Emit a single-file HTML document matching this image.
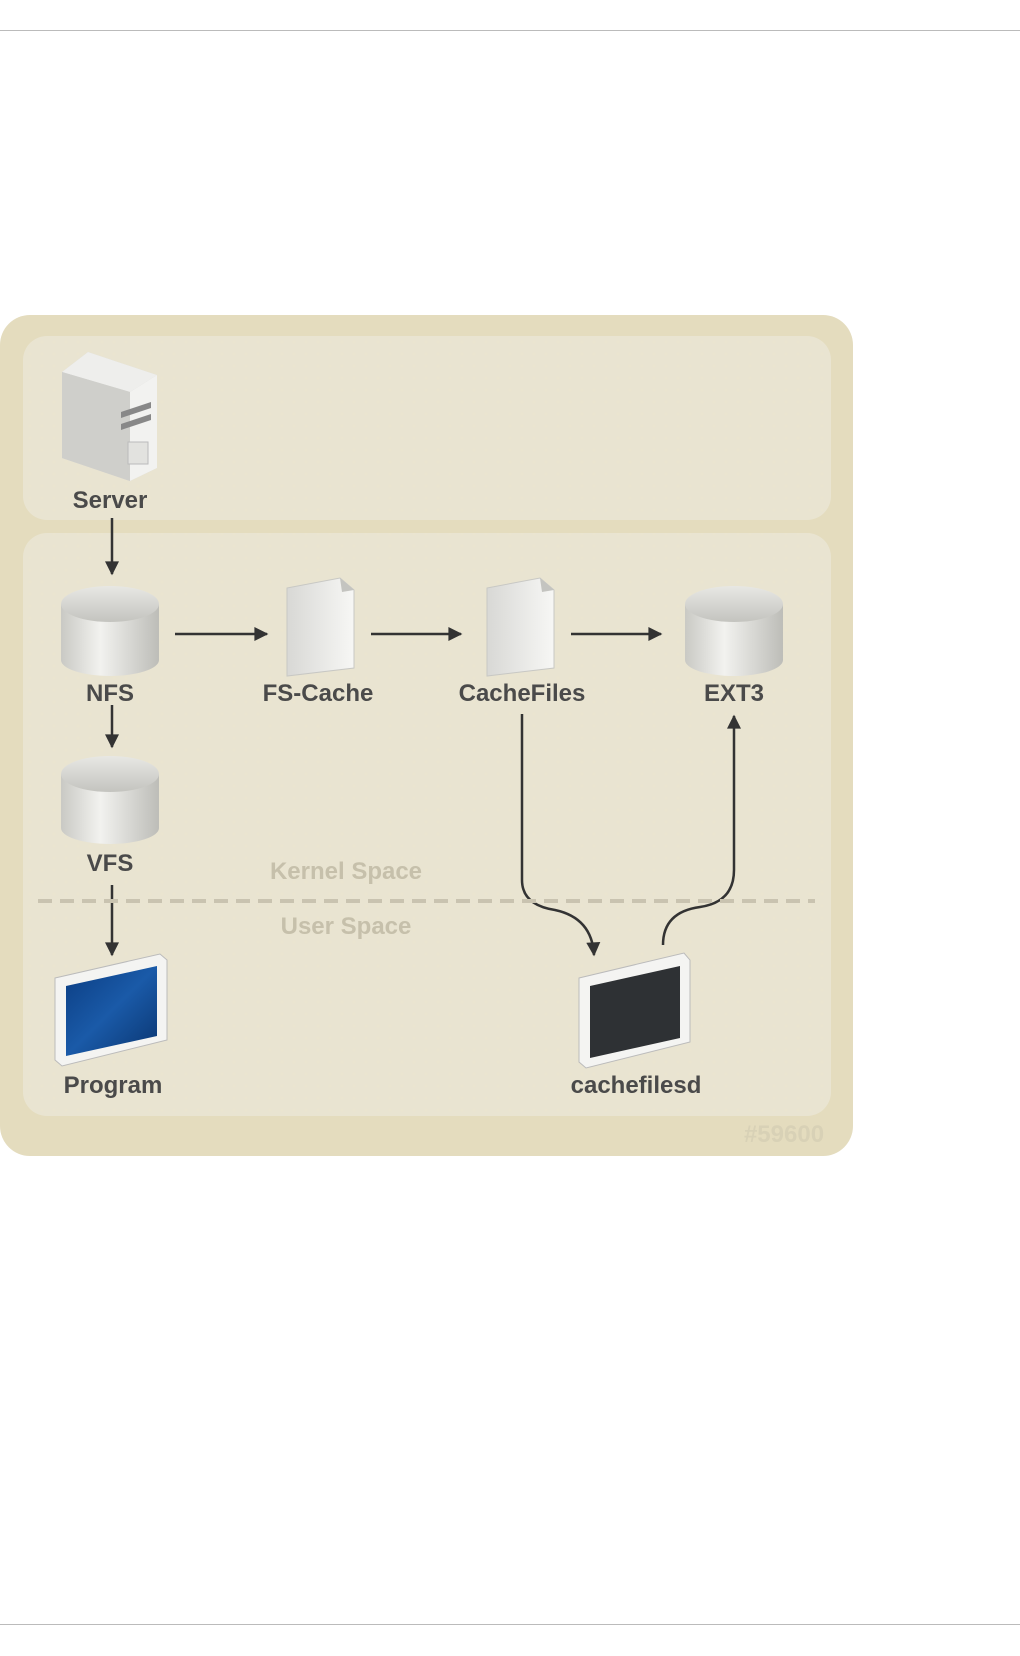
<!DOCTYPE html>
<html><head><meta charset="utf-8"><style>
html,body{margin:0;padding:0;background:#fff;}
body{width:1020px;height:1656px;position:relative;overflow:hidden;font-family:"Liberation Sans",sans-serif;}
</style></head><body>
<div style="position:absolute;left:0;top:30px;width:1020px;height:1px;background:#bbb"></div>
<div style="position:absolute;left:0;top:1624px;width:1020px;height:1px;background:#bbb"></div>
<svg width="1020" height="1656" style="position:absolute;left:0;top:0" xmlns="http://www.w3.org/2000/svg">
<defs>
<pattern id="dots" width="12" height="12" patternUnits="userSpaceOnUse"><circle cx="6" cy="6" r="1.6" fill="#ebe5cf"/></pattern>
<linearGradient id="cyl" x1="0" x2="1"><stop offset="0" stop-color="#c9c9c4"/><stop offset="0.4" stop-color="#f2f2ef"/><stop offset="1" stop-color="#bdbdb8"/></linearGradient>
<linearGradient id="top" x1="0" y1="0" x2="0" y2="1"><stop offset="0" stop-color="#e8e8e4"/><stop offset="1" stop-color="#c4c4bf"/></linearGradient>
<linearGradient id="doc" x1="0" x2="1"><stop offset="0" stop-color="#d8d8d5"/><stop offset="1" stop-color="#f7f7f5"/></linearGradient>
<linearGradient id="blue" x1="0" y1="0" x2="1" y2="1"><stop offset="0" stop-color="#0b3d82"/><stop offset="0.5" stop-color="#1a5aa8"/><stop offset="1" stop-color="#0a3570"/></linearGradient>
<marker id="ahb" viewBox="0 0 10 10" markerWidth="16" markerHeight="14" refX="9" refY="5" orient="auto" markerUnits="userSpaceOnUse"><path d="M0,0 L10,5 L0,10 z" fill="#333"/></marker>
</defs>
<rect x="0" y="315" width="853" height="841" rx="30" fill="#e4dcbe"/>
<rect x="23" y="336" width="808" height="184" rx="24" fill="#e9e4d1"/>
<rect x="23" y="336" width="808" height="184" rx="24" fill="url(#dots)" opacity="0.6"/>
<rect x="23" y="533" width="808" height="583" rx="24" fill="#e9e4d1"/>
<rect x="23" y="533" width="808" height="583" rx="24" fill="url(#dots)" opacity="0.6"/>

<!-- server -->
<path d="M62,372 L88,352 L157,375 L157,468 L130,481 L62,458 z" fill="#d4d4d0"/>
<path d="M62,372 L88,352 L157,375 L130,392 z" fill="#eeeeec"/>
<path d="M130,392 L157,375 L157,468 L130,481 z" fill="#f2f2f0"/>
<path d="M62,372 L130,392 L130,481 L62,458 z" fill="#cfcfcb"/>
<path d="M121,412 L151,402 L151,408 L121,418 z" fill="#888"/>
<path d="M121,424 L151,414 L151,420 L121,430 z" fill="#888"/>
<rect x="128" y="442" width="20" height="22" fill="#e2e2df" stroke="#bbb"/>

<!-- cylinders -->
<path d="M61,604 L61,660 A49,16 0 0 0 159,660 L159,604 z" fill="url(#cyl)"/>
<ellipse cx="110" cy="604" rx="49" ry="18" fill="url(#top)"/>
<path d="M61,774 L61,828 A49,16 0 0 0 159,828 L159,774 z" fill="url(#cyl)"/>
<ellipse cx="110" cy="774" rx="49" ry="18" fill="url(#top)"/>
<path d="M685,604 L685,660 A49,16 0 0 0 783,660 L783,604 z" fill="url(#cyl)"/>
<ellipse cx="734" cy="604" rx="49" ry="18" fill="url(#top)"/>

<!-- docs -->
<path d="M287,588 L340,578 L354,590 L354,668 L287,676 z" fill="url(#doc)" stroke="#c8c8c4"/>
<path d="M340,578 L342,592 L354,590 z" fill="#c4c4c0"/>
<path d="M487,588 L540,578 L554,590 L554,668 L487,676 z" fill="url(#doc)" stroke="#c8c8c4"/>
<path d="M540,578 L542,592 L554,590 z" fill="#c4c4c0"/>

<!-- monitors -->
<path d="M55,978 L160,954 L167,960 L167,1040 L62,1066 L55,1060 z" fill="#f4f4f2" stroke="#bbb"/>
<path d="M66,986 L157,966 L157,1036 L66,1056 z" fill="url(#blue)"/>
<path d="M579,978 L684,953 L690,960 L690,1042 L586,1068 L579,1062 z" fill="#f4f4f2" stroke="#bbb"/>
<path d="M590,986 L680,966 L680,1038 L590,1058 z" fill="#2e3134"/>

<!-- arrows -->
<g stroke="#333" stroke-width="2.5" fill="none">
<line x1="112" y1="518" x2="112" y2="574" marker-end="url(#ahb)"/>
<line x1="175" y1="634" x2="267" y2="634" marker-end="url(#ahb)"/>
<line x1="371" y1="634" x2="461" y2="634" marker-end="url(#ahb)"/>
<line x1="571" y1="634" x2="661" y2="634" marker-end="url(#ahb)"/>
<line x1="112" y1="705" x2="112" y2="747" marker-end="url(#ahb)"/>
<line x1="112" y1="885" x2="112" y2="955" marker-end="url(#ahb)"/>
<path d="M522,714 L522,880 Q522,905 555,910 Q592,918 594,955" marker-end="url(#ahb)"/>
<path d="M663,945 Q663,912 700,907 Q734,902 734,870 L734,716" marker-end="url(#ahb)"/>
</g>
<line x1="38" y1="901" x2="815" y2="901" stroke="#c9c3b0" stroke-width="4" stroke-dasharray="14,8"/>

<g font-family="Liberation Sans, sans-serif" font-weight="bold" font-size="24" fill="#4a4a4a" text-anchor="middle">
<text x="110" y="508">Server</text>
<text x="110" y="701">NFS</text>
<text x="318" y="701">FS-Cache</text>
<text x="522" y="701">CacheFiles</text>
<text x="734" y="701">EXT3</text>
<text x="110" y="871">VFS</text>
<text x="113" y="1093">Program</text>
<text x="636" y="1093">cachefilesd</text>
<text x="346" y="879" fill="#c6c0ab">Kernel Space</text>
<text x="346" y="934" fill="#c6c0ab">User Space</text>
<text x="784" y="1142" fill="#d8d1b6">#59600</text>
</g>
</svg>
</body></html>
